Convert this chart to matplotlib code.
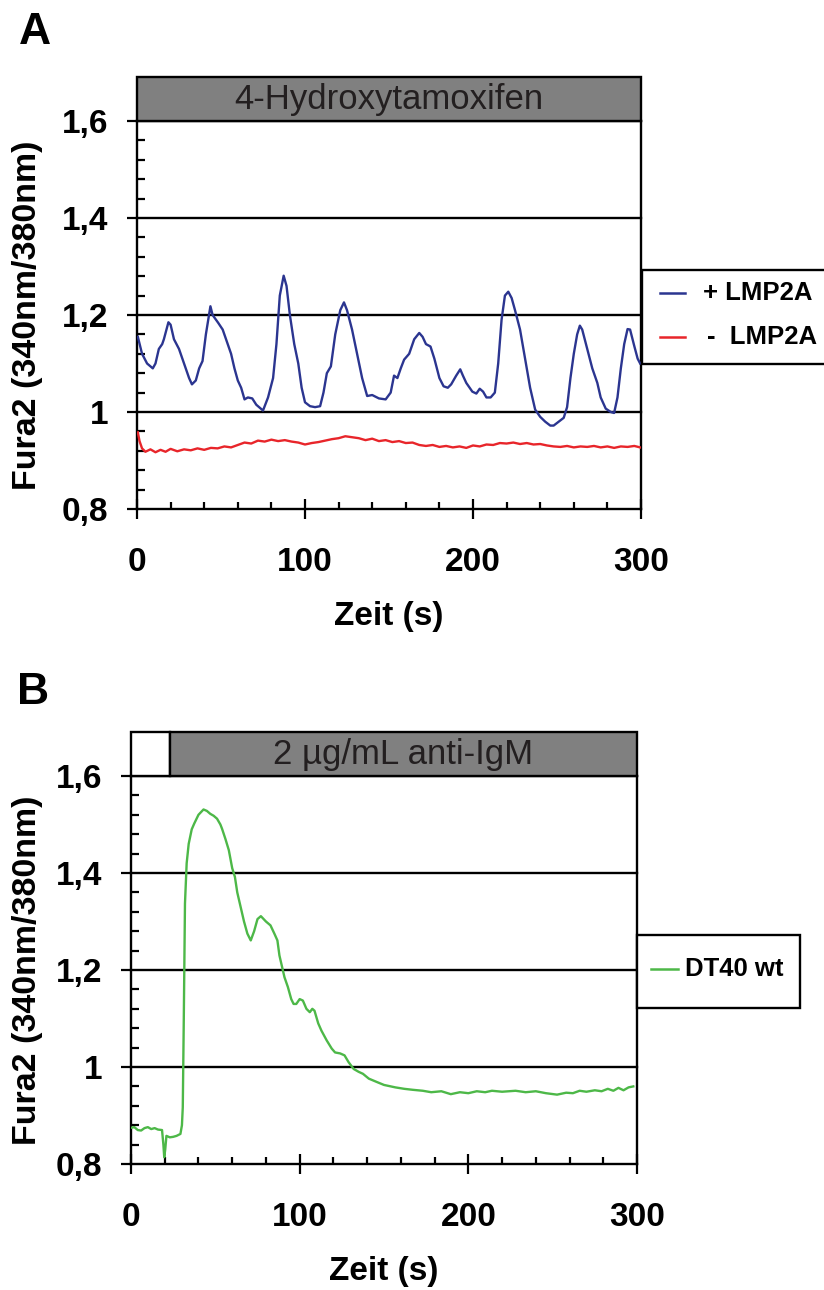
import matplotlib.pyplot as plt
from matplotlib.patches import Rectangle
from matplotlib.lines import Line2D
from matplotlib.ticker import MultipleLocator, FuncFormatter
import matplotlib.transforms as mtransforms

plt.rcParams['font.family'] = ['Liberation Sans', 'DejaVu Sans']
plt.rcParams['font.weight'] = 'bold'

# Panel A: + LMP2A (blue) and - LMP2A (red) with 4-Hydroxytamoxifen
t_plus = [0.5, 3, 6, 9.4, 11, 13, 15, 16, 18.7, 20, 22, 25, 28, 31, 32.7, 35, 37, 39, 41, 43.7,
          45, 48.3, 51, 54, 56, 58, 60, 62, 64, 66, 68.6, 71, 75, 78, 81, 83, 85, 87.3, 89, 91,
          93.6, 96, 98, 100, 103, 106, 109, 111, 113, 115.4, 118, 121, 123.2, 125, 128, 131, 134, 137, 140, 144,
          148, 151, 153, 155, 157, 159, 162, 165, 168, 170, 172, 174.7, 177, 180, 182.5, 185, 187, 190, 192.4, 194,
          196, 199.6, 202, 204, 206, 208, 210.5, 213, 215, 217, 219, 221, 223, 225, 228, 231, 234, 237, 240, 243,
          246, 248, 251, 254, 256, 258, 260, 262, 263.6, 265, 268, 271, 274, 276, 279, 282, 284, 286, 288, 290,
          292, 293.5, 296, 298, 299.5]
v_plus = [1.155, 1.12, 1.10, 1.09, 1.10, 1.13, 1.14, 1.15, 1.185, 1.18, 1.15, 1.13, 1.10, 1.07, 1.057, 1.065, 1.09, 1.105, 1.16, 1.218,
          1.20, 1.184, 1.17, 1.14, 1.12, 1.09, 1.065, 1.05, 1.026, 1.03, 1.028, 1.015, 1.003, 1.03, 1.07, 1.14, 1.24, 1.281, 1.26, 1.20,
          1.14, 1.10, 1.05, 1.02, 1.012, 1.01, 1.012, 1.04, 1.08, 1.094, 1.16, 1.21, 1.226, 1.21, 1.17, 1.12, 1.07, 1.033, 1.035, 1.028,
          1.026, 1.04, 1.075, 1.07, 1.09, 1.108, 1.12, 1.15, 1.163, 1.155, 1.14, 1.135, 1.11, 1.07, 1.053, 1.05, 1.057, 1.075, 1.088, 1.075,
          1.06, 1.042, 1.038, 1.048, 1.042, 1.03, 1.03, 1.04, 1.10, 1.19, 1.24, 1.248, 1.235, 1.21, 1.17, 1.11, 1.05, 1.005, 0.99, 0.98,
          0.972, 0.972, 0.98, 0.988, 1.01, 1.07, 1.12, 1.16, 1.178, 1.17, 1.13, 1.09, 1.06, 1.03, 1.007, 1.0, 0.998, 1.03, 1.09, 1.14,
          1.171, 1.17, 1.136, 1.11, 1.10]

t_minus = [0.5, 1.5, 3, 5, 8, 11, 14, 17, 20, 24, 28, 32, 36, 40, 44, 48, 52, 56, 60, 64, 68, 72, 76, 80, 84, 88, 92, 96,
           100, 104, 108, 112, 116, 120, 124, 128, 132, 136, 140, 144, 148, 152, 156, 160, 164, 168, 172, 176, 180,
           184, 188, 192, 196, 200, 204, 208, 212, 216, 220, 224, 228, 232, 236, 240, 244, 248, 252, 256, 260, 264,
           268, 272, 276, 280, 284, 288, 292, 296, 299.5]
v_minus = [0.958, 0.94, 0.925, 0.918, 0.923, 0.917, 0.922, 0.918, 0.924, 0.919, 0.923, 0.921, 0.925, 0.922, 0.926, 0.925,
           0.929, 0.927, 0.932, 0.937, 0.935, 0.941, 0.939, 0.943, 0.940, 0.942, 0.939, 0.937, 0.933, 0.936, 0.938, 0.941,
           0.944, 0.946, 0.950, 0.948, 0.946, 0.942, 0.945, 0.940, 0.942, 0.938, 0.940, 0.936, 0.937, 0.932, 0.930, 0.932,
           0.928, 0.930, 0.927, 0.929, 0.926, 0.931, 0.929, 0.933, 0.932, 0.936, 0.935, 0.937, 0.934, 0.936, 0.933, 0.934,
           0.931, 0.929, 0.928, 0.930, 0.927, 0.929, 0.928, 0.930, 0.927, 0.929, 0.926, 0.929, 0.928, 0.930, 0.927]

# Panel B: DT40 wt with 2 ug/mL anti-IgM
t_wt = [0.5, 2, 4, 6, 8, 10, 12, 14, 16, 18.4, 19.2, 19.7, 20.3, 21, 23, 25, 27, 29.3, 30.2, 30.7, 31.3, 32, 33, 34.2,
        36, 37.5, 40, 43, 45, 47, 49, 51, 53, 54, 56, 58, 60, 61.6, 63, 65, 67, 69, 71, 73, 75, 77, 80, 82.7, 85,
        86.8, 88, 90, 91, 93, 95, 96.4, 98, 100, 101.9, 104, 106, 107.5, 108.8, 111, 112.9, 116, 119, 121, 124,
        126.6, 129, 132, 135, 137.5, 141, 145.8, 150, 156.7, 162, 167, 173, 178, 184, 189.6, 195, 200, 205, 210,
        214, 220, 228, 234, 240, 246, 252.6, 258, 262, 266, 270, 275, 279, 282.7, 286, 289, 292, 295, 297.8]
v_wt = [0.875, 0.876, 0.870, 0.869, 0.874, 0.876, 0.872, 0.874, 0.871, 0.870, 0.84, 0.814, 0.83, 0.858, 0.855, 0.856,
        0.858, 0.862, 0.88, 0.917, 1.10, 1.337, 1.42, 1.46, 1.49, 1.502, 1.52, 1.531, 1.528, 1.522, 1.518, 1.512, 1.50,
        1.491, 1.47, 1.447, 1.41, 1.392, 1.36, 1.33, 1.30, 1.275, 1.261, 1.28, 1.305, 1.311, 1.30, 1.292, 1.275, 1.261,
        1.23, 1.20, 1.185, 1.165, 1.14, 1.130, 1.13, 1.14, 1.137, 1.12, 1.113, 1.12, 1.116, 1.09, 1.075, 1.055, 1.038,
        1.030, 1.028, 1.024, 1.01, 0.996, 0.99, 0.986, 0.976, 0.969, 0.963, 0.958, 0.955, 0.953, 0.951, 0.948, 0.950,
        0.944, 0.948, 0.946, 0.950, 0.948, 0.951, 0.949, 0.951, 0.948, 0.950, 0.946, 0.943, 0.947, 0.946, 0.951,
        0.949, 0.952, 0.950, 0.955, 0.951, 0.957, 0.952, 0.958, 0.960]

W, H = 824, 1290
fig = plt.figure(figsize=(W / 100, H / 100), dpi=100)


def fx(px):
    return px / W


def fy(py):
    return 1 - py / H


def style_axes(ax):
    ax.set_xlim(0, 300)
    ax.set_ylim(0.8, 1.6)
    ax.xaxis.set_major_locator(MultipleLocator(100))
    ax.xaxis.set_minor_locator(MultipleLocator(20))
    ax.yaxis.set_major_locator(MultipleLocator(0.2))
    ax.yaxis.set_minor_locator(MultipleLocator(0.04))
    ax.yaxis.set_major_formatter(FuncFormatter(lambda v, p: ('%g' % round(v, 1)).replace('.', ',')))
    ax.tick_params(axis='x', which='major', direction='inout', length=14.4, width=1.6, pad=20, labelsize=24)
    ax.tick_params(axis='x', which='minor', direction='in', length=5, width=1.6)
    ax.tick_params(axis='y', which='major', direction='out', length=7.2, width=1.6, pad=13.5, labelsize=24)
    ax.tick_params(axis='y', which='minor', direction='in', length=5.8, width=1.6)
    for s in ['left', 'bottom', 'right']:
        ax.spines[s].set_linewidth(1.7)
    ax.spines['top'].set_visible(False)
    for g in [1.0, 1.2, 1.4, 1.6]:
        ax.axhline(g, color='black', lw=1.7, zorder=1, clip_on=False)
    ax.set_xlabel('Zeit (s)', fontsize=24, fontweight='bold')
    ax.set_ylabel('Fura2 (340nm/380nm)', fontsize=24.5, fontweight='bold')
    ax.xaxis.label.set_va('center')
    ax.yaxis.label.set_va('center')


hdr_h = 44 / 388

# ---- A ----
axA = fig.add_axes([fx(137), fy(509), fx(641) - fx(137), fy(121) - fy(509)])
style_axes(axA)
axA.plot(t_plus, v_plus, color='#2b3590', lw=1.7, zorder=3)
axA.plot(t_minus, v_minus, color='#e8252a', lw=1.7, zorder=3)
axA.xaxis.set_label_coords(0.5, -0.278)
axA.yaxis.set_label_coords((28 - 137) / 504, 0.5)
axA.add_patch(Rectangle((0, 1), 1, hdr_h, transform=axA.transAxes, facecolor='#808080',
                        edgecolor='black', lw=1.7, clip_on=False))
axA.text(0.5, 1 + hdr_h / 2, '4-Hydroxytamoxifen', transform=axA.transAxes, ha='center', va='center',
         fontsize=25, fontweight='normal', color='#231f20')

# ---- B ----
axB = fig.add_axes([fx(131), fy(1164), fx(637) - fx(131), fy(776) - fy(1164)])
style_axes(axB)
axB.plot(t_wt, v_wt, color='#4db848', lw=1.7, zorder=3)
axB.xaxis.set_label_coords(0.5, -0.278)
axB.yaxis.set_label_coords((28 - 131) / 506, 0.5)
trB = mtransforms.blended_transform_factory(axB.transData, axB.transAxes)
stim_start = 23
axB.add_patch(Rectangle((0, 1), stim_start, hdr_h, transform=trB, facecolor='white',
                        edgecolor='black', lw=1.7, clip_on=False))
axB.add_patch(Rectangle((stim_start, 1), 300 - stim_start, hdr_h, transform=trB, facecolor='#808080',
                        edgecolor='black', lw=1.7, clip_on=False))
axB.text((stim_start + 300) / 2, 1 + hdr_h / 2, '2 µg/mL anti-IgM', transform=trB, ha='center', va='center',
         fontsize=25, fontweight='normal', color='#231f20')

# panel letters
fig.text(fx(19), fy(12), 'A', fontsize=32, fontweight='bold', va='top', ha='left')
fig.text(fx(17), fy(672), 'B', fontsize=32, fontweight='bold', va='top', ha='left')

# legend boxes
fig.patches.append(Rectangle((fx(642), fy(364)), fx(830) - fx(642), fy(270) - fy(364),
                             transform=fig.transFigure, facecolor='white', edgecolor='black', lw=1.7))
fig.lines.append(Line2D([fx(660), fx(685)], [fy(293), fy(293)], transform=fig.transFigure, color='#2b3590', lw=1.8))
fig.lines.append(Line2D([fx(660), fx(685)], [fy(337), fy(337)], transform=fig.transFigure, color='#e8252a', lw=1.8))
fig.text(fx(703), fy(293), '+ LMP2A', fontsize=18.5, fontweight='bold', va='center', ha='left')
fig.text(fx(707), fy(337), '-  LMP2A', fontsize=18.5, fontweight='bold', va='center', ha='left')

fig.patches.append(Rectangle((fx(637), fy(1008)), fx(800) - fx(637), fy(935) - fy(1008),
                             transform=fig.transFigure, facecolor='white', edgecolor='black', lw=1.7))
fig.lines.append(Line2D([fx(651), fx(678)], [fy(969), fy(969)], transform=fig.transFigure, color='#4db848', lw=1.8))
fig.text(fx(685), fy(969), 'DT40 wt', fontsize=18.5, fontweight='bold', va='center', ha='left')

fig.savefig('out.png', dpi=100)
